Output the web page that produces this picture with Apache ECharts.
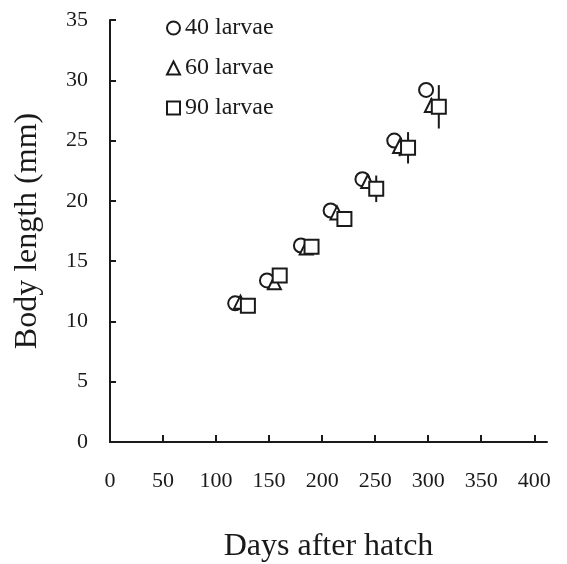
<!DOCTYPE html>
<html>
<head>
<meta charset="utf-8">
<script src="https://cdn.jsdelivr.net/npm/echarts@6/dist/echarts.min.js"></script>
<style>html,body{margin:0;padding:0;background:#fff}#c{width:567px;height:564px}</style>
</head>
<body>
<div id="c"></div>
<script>
var xTicks = [0, 50, 100, 150, 200, 250, 300, 350, 400];
var yTicks = [0, 5, 10, 15, 20, 25, 30, 35];

var days40 = [118, 148, 180, 208, 238, 268, 298];
var len40  = [11.5, 13.4, 16.3, 19.2, 21.8, 25.0, 29.2];
var err40  = [0.3, 0.3, 0.3, 0.3, 0.4, 0.5, 0.5];

var days60 = [123, 155, 185, 214, 243, 273, 303];
var len60  = [11.6, 13.2, 16.1, 19.0, 21.6, 24.5, 27.9];
var err60  = [0.5, 0.3, 0.3, 0.4, 0.6, 0.8, 0.6];

var days90 = [130, 160, 190, 221, 251, 281, 310];
var len90  = [11.3, 13.8, 16.2, 18.5, 21.0, 24.4, 27.8];
var err90  = [0.6, 0.6, 0.6, 0.6, 1.1, 1.3, 1.8];

var FONT = 'Liberation Serif';
var INK = '#1a1a1a';

function pts(d, v) { return d.map(function (x, i) { return [x, v[i]]; }); }
function errData(d, v, e) { return d.map(function (x, i) { return [x, v[i] - e[i], v[i] + e[i]]; }); }

function errSeries(d, v, e) {
  return {
    type: 'custom',
    z: 1,
    silent: true,
    data: errData(d, v, e),
    renderItem: function (params, api) {
      var lo = api.coord([api.value(0), api.value(1)]);
      var hi = api.coord([api.value(0), api.value(2)]);
      return {
        type: 'line',
        shape: { x1: lo[0], y1: lo[1], x2: hi[0], y2: hi[1] },
        style: { stroke: INK, lineWidth: 2 }
      };
    }
  };
}

var markerStyle = { color: '#fff', borderColor: INK, borderWidth: 2, opacity: 1 };

var chart = echarts.init(document.getElementById('c'), null, { renderer: 'canvas' });
chart.setOption({
  animation: false,
  backgroundColor: '#fff',
  grid: { left: 110, top: 20, right: 20, bottom: 122, containLabel: false, outerBoundsMode: 'none' },
  legend: {
    orient: 'vertical',
    left: 161,
    top: 11,
    itemGap: 16,
    itemWidth: 13,
    itemHeight: 13,
    data: [
      { name: '40 larvae', icon: 'circle' },
      { name: '60 larvae', icon: 'triangle' },
      { name: '90 larvae', icon: 'rect' }
    ],
    itemStyle: { color: '#fff', borderColor: INK, borderWidth: 2 },
    textStyle: { fontFamily: FONT, fontSize: 24, color: INK }
  },
  xAxis: {
    type: 'value',
    min: 0,
    max: 412,
    interval: 50,
    name: 'Days after hatch',
    nameLocation: 'middle',
    nameGap: 89,
    nameTextStyle: { fontFamily: FONT, fontSize: 32, color: INK },
    splitLine: { show: false },
    axisLine: { onZero: false, lineStyle: { color: INK, width: 2 } },
    axisTick: { inside: true, length: 7, lineStyle: { color: INK, width: 2 }, customValues: xTicks },
    axisLabel: { margin: 28, fontFamily: FONT, fontSize: 22, color: INK, customValues: xTicks }
  },
  yAxis: {
    type: 'value',
    min: 0,
    max: 35,
    interval: 5,
    name: 'Body length (mm)',
    nameLocation: 'middle',
    nameGap: 66,
    nameRotate: 90,
    nameTextStyle: { fontFamily: FONT, fontSize: 32, color: INK },
    splitLine: { show: false },
    axisLine: { show: true, lineStyle: { color: INK, width: 2 } },
    axisTick: { show: true, inside: true, length: 6, lineStyle: { color: INK, width: 2 }, customValues: yTicks },
    axisLabel: { margin: 22, fontFamily: FONT, fontSize: 22, color: INK, customValues: yTicks }
  },
  series: [
    errSeries(days40, len40, err40),
    errSeries(days60, len60, err60),
    errSeries(days90, len90, err90),
    { name: '40 larvae', type: 'scatter', z: 2, symbol: 'circle', symbolSize: 14, itemStyle: markerStyle, data: pts(days40, len40) },
    { name: '60 larvae', type: 'scatter', z: 3, symbol: 'triangle', symbolSize: 13, itemStyle: markerStyle, data: pts(days60, len60) },
    { name: '90 larvae', type: 'scatter', z: 4, symbol: 'rect', symbolSize: 14, itemStyle: markerStyle, data: pts(days90, len90) }
  ]
});
</script>
</body>
</html>
